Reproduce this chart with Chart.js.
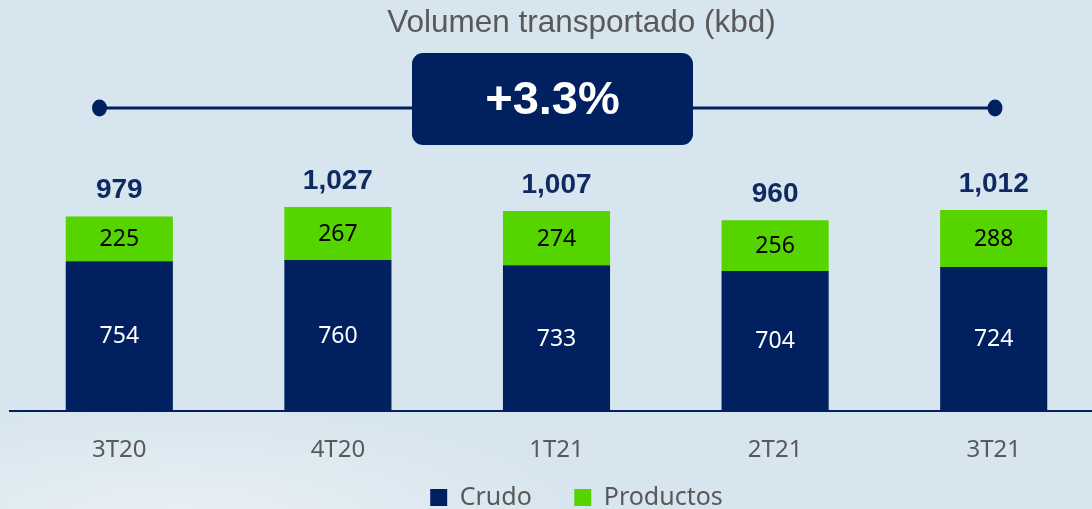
<!DOCTYPE html>
<html>
<head>
<meta charset="utf-8">
<script src="https://cdn.jsdelivr.net/npm/chart.js@4/dist/chart.umd.min.js"></script>
<style>
  html, body {
    margin: 0;
    padding: 0;
    overflow: hidden;
    width: 1092px;
    height: 509px;
  }
  body {
    background:
      radial-gradient(ellipse 420px 120px at 180px 520px, rgba(240, 245, 248, 0.7), rgba(240, 245, 248, 0) 100%),
      #d7e5ee;
  }
  #wrap {
    position: absolute;
    left: 0;
    top: 0;
    width: 1104px;
    height: 559px;
  }
</style>
</head>
<body>
<div id="wrap"><canvas id="volume-chart"></canvas></div>
<script>
const quarters = ["3T20", "4T20", "1T21", "2T21", "3T21"];
const crudo = [754, 760, 733, 704, 724];
const productos = [225, 267, 274, 256, 288];
const changeLabel = "+3.3%";
const titleText = "Volumen transportado (kbd)";

const Config = {
  colors: {
    navy: "#002060",
    green: "#55d400",
    total: "#0e2a62",
    text: "#595959",
  },
  yMax: 1100,
};

const ctx = document.getElementById("volume-chart");

// move the centred title / legend to where they sit in the slide
const shiftBlocks = {
  id: "shiftBlocks",
  afterLayout(chart) {
    const lg = chart.legend;
    if (lg) {
      const dy = 442.5 - lg.top;
      lg.left += 20;
      lg.right += 20;
      lg.top += dy;
      lg.bottom += dy;
    }
    if (chart.titleBlock) {
      chart.titleBlock.left += 25;
      chart.titleBlock.right += 25;
    }
  },
};

// line with end dots and the rounded "+3.3%" box
const changeBadge = {
  id: "changeBadge",
  afterDraw(chart) {
    const c = chart.ctx;
    c.save();
    c.strokeStyle = Config.colors.navy;
    c.fillStyle = Config.colors.navy;
    c.lineWidth = 3;
    c.beginPath();
    c.moveTo(99.5, 108);
    c.lineTo(995, 108);
    c.stroke();
    [99.5, 995].forEach((x) => {
      c.beginPath();
      c.ellipse(x, 108, 7.5, 8.5, 0, 0, Math.PI * 2);
      c.fill();
    });
    c.beginPath();
    c.roundRect(412, 53, 281, 92, 11);
    c.fill();
    c.fillStyle = "#ffffff";
    c.font = `bold 47px "Liberation Sans", Arial, sans-serif`;
    c.textAlign = "center";
    c.textBaseline = "middle";
    c.fillText(changeLabel, 552.5, 101);
    c.restore();
  },
};

// values inside the segments and totals above the bars
const barLabels = {
  id: "barLabels",
  afterDatasetsDraw(chart) {
    const c = chart.ctx;
    c.save();
    c.textAlign = "center";
    c.textBaseline = "middle";
    c.font = `23px "Noto Sans", sans-serif`;
    chart.data.datasets.forEach((ds, i) => {
      const meta = chart.getDatasetMeta(i);
      meta.data.forEach((bar, j) => {
        c.fillStyle = i === 0 ? "#ffffff" : "#000000";
        c.fillText(String(ds.data[j]), bar.x, (bar.y + bar.base) / 2 + 1);
      });
    });
    const top = chart.getDatasetMeta(1);
    c.font = `bold 28px "Liberation Sans", Arial, sans-serif`;
    c.fillStyle = Config.colors.total;
    top.data.forEach((bar, j) => {
      const total = crudo[j] + productos[j];
      c.fillText(total.toLocaleString("en-US"), bar.x, bar.y - 26);
    });
    c.restore();
  },
};

new Chart(ctx, {
  type: "bar",
  data: {
    labels: quarters,
    datasets: [
      {
        label: "Crudo",
        data: crudo,
        backgroundColor: Config.colors.navy,
        categoryPercentage: 1,
        barPercentage: 0.49,
      },
      {
        label: "Productos",
        data: productos,
        backgroundColor: Config.colors.green,
        categoryPercentage: 1,
        barPercentage: 0.49,
      },
    ],
  },
  options: {
    responsive: true,
    maintainAspectRatio: false,
    animation: false,
    layout: {
      padding: { left: 10, right: 1, top: 0, bottom: 0 },
    },
    scales: {
      x: {
        stacked: true,
        grid: { display: false },
        border: { display: true, color: Config.colors.navy, width: 2 },
        ticks: {
          color: Config.colors.text,
          padding: 17,
          font: { family: `"Noto Sans", sans-serif`, size: 24 },
        },
      },
      y: {
        stacked: true,
        display: false,
        min: 0,
        max: Config.yMax,
      },
    },
    plugins: {
      title: {
        display: true,
        text: titleText,
        color: Config.colors.text,
        font: { family: `"Liberation Sans", Arial, sans-serif`, size: 31.5, weight: "normal" },
        padding: { top: 4.2, bottom: 150.5 },
      },
      legend: {
        position: "bottom",
        labels: {
          color: Config.colors.text,
          boxWidth: 17,
          boxHeight: 17,
          padding: 42.5,
          font: { family: `"Noto Sans", sans-serif`, size: 25 },
        },
      },
      tooltip: { enabled: false },
    },
  },
  plugins: [shiftBlocks, changeBadge, barLabels],
});
</script>
</body>
</html>
